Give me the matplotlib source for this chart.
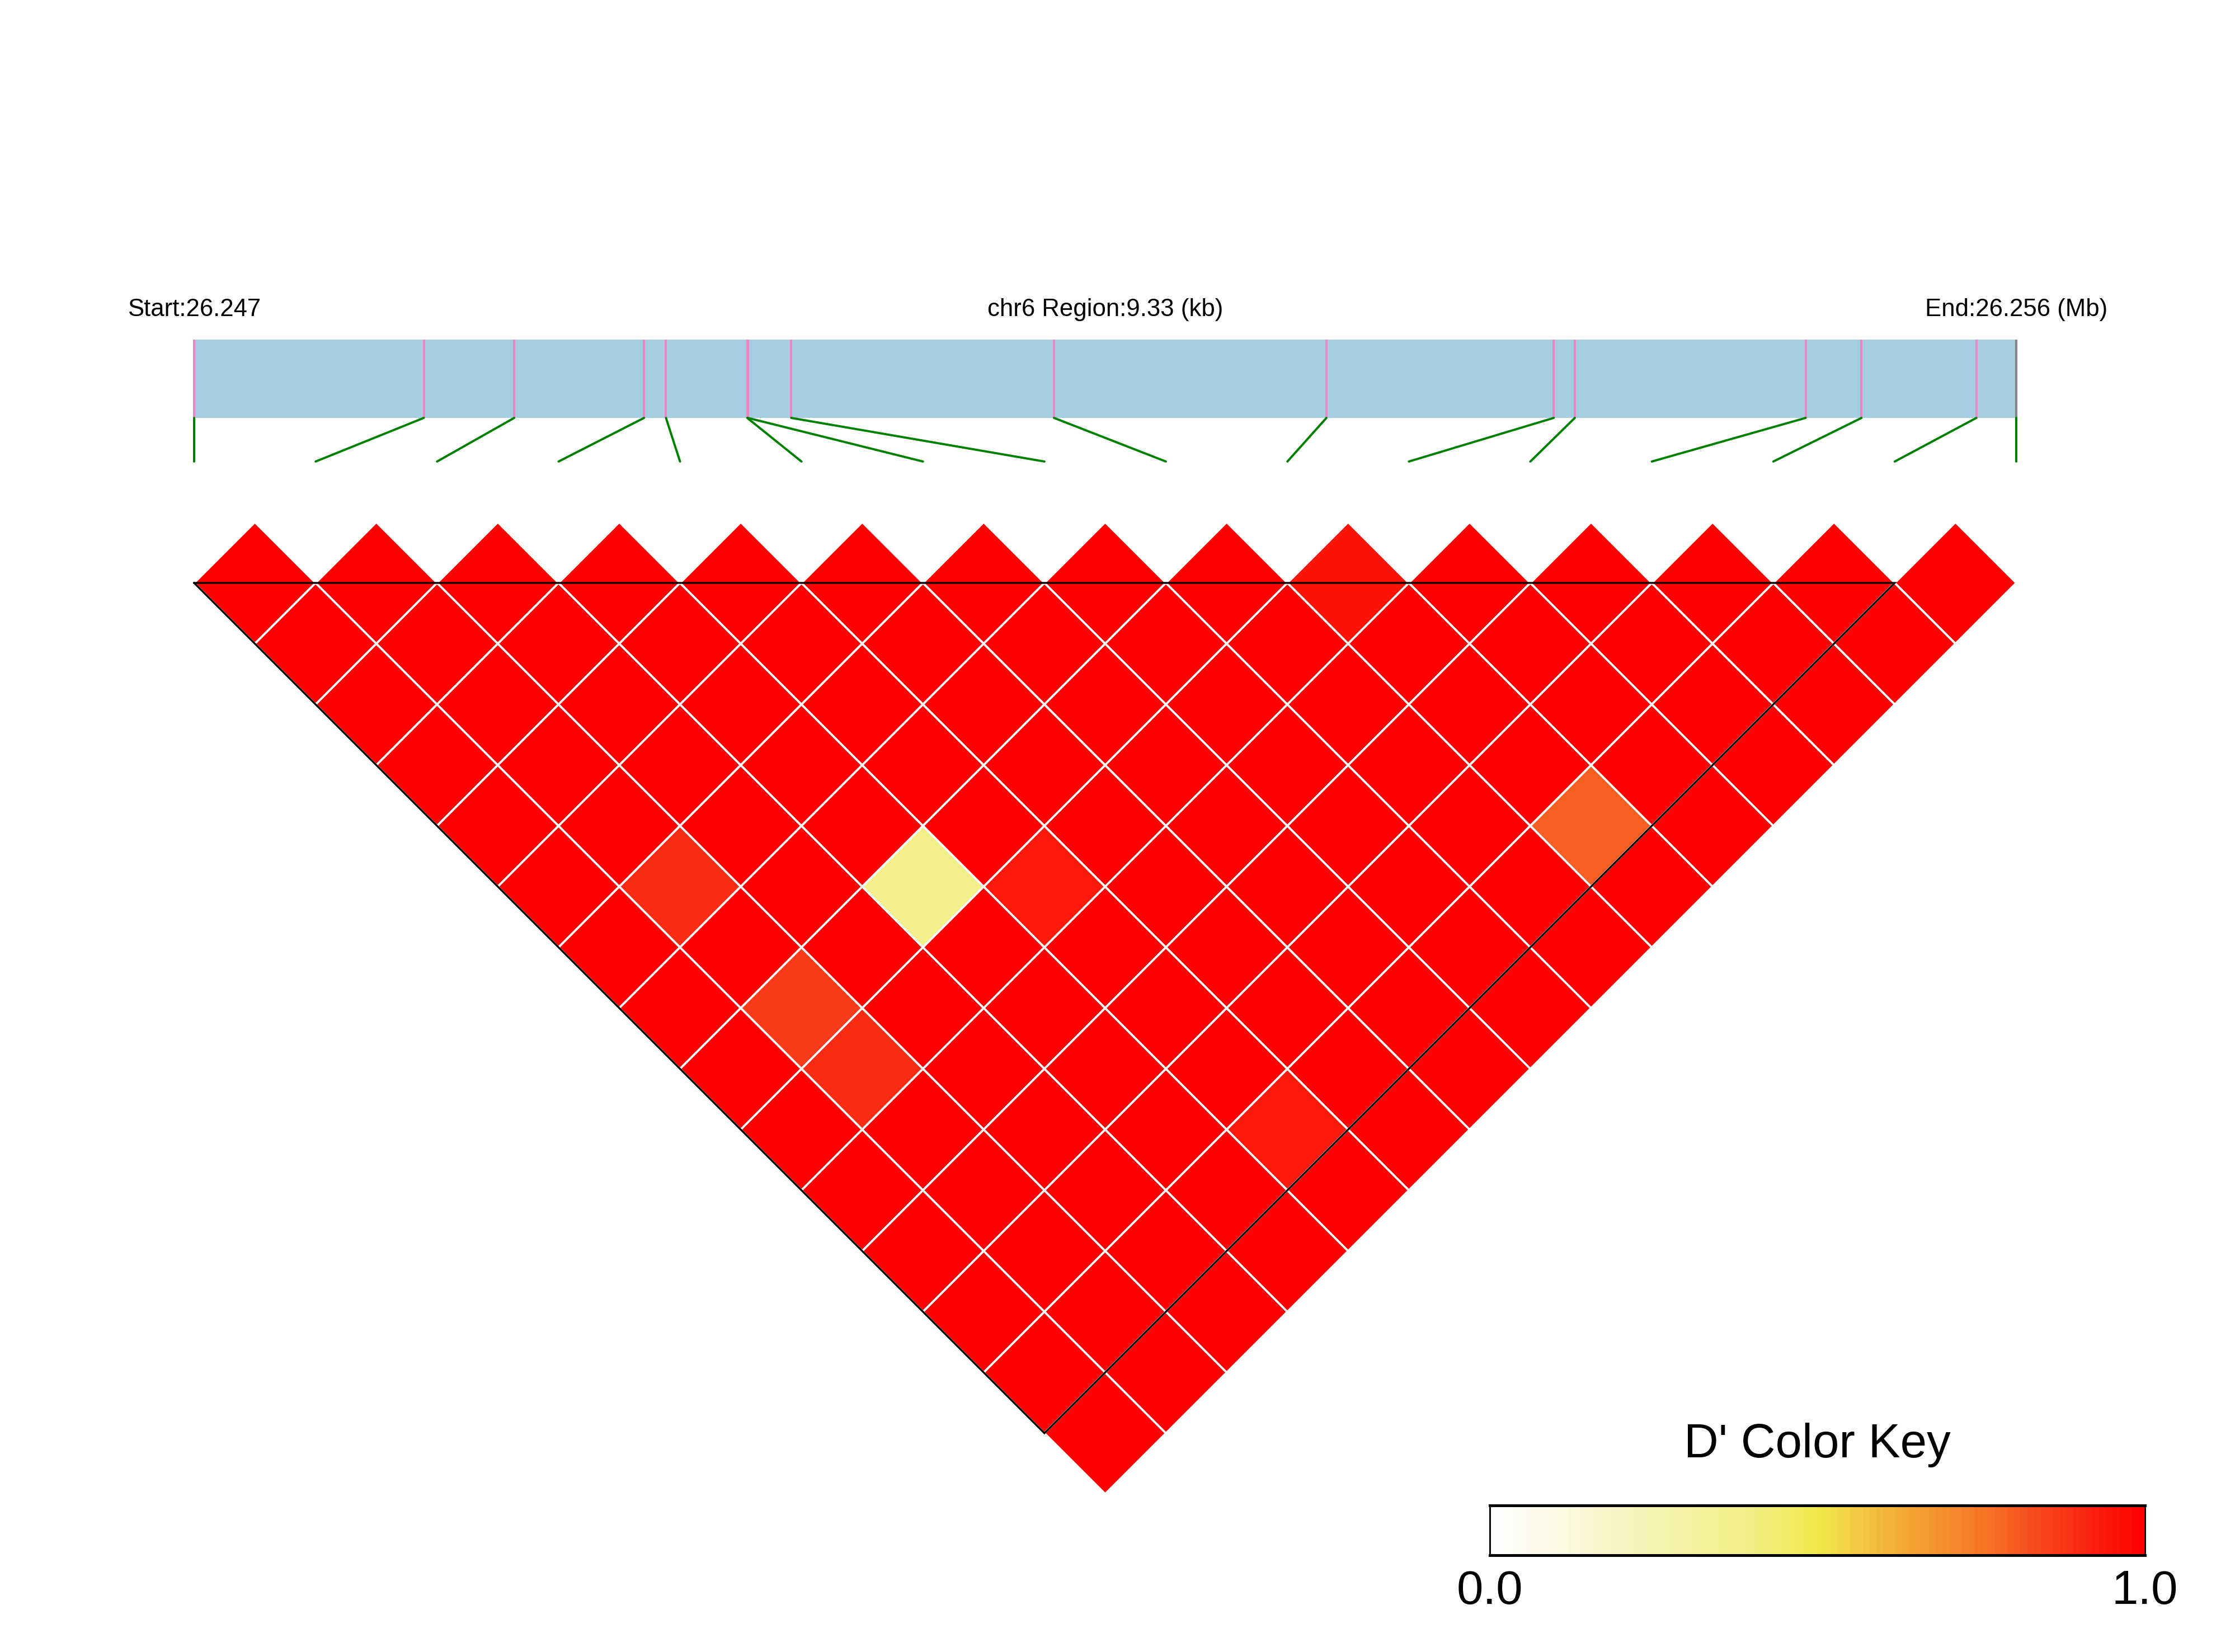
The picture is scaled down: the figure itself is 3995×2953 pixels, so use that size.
import matplotlib
matplotlib.use("Agg")
import matplotlib.pyplot as plt
import numpy as np
from matplotlib.collections import PolyCollection
from matplotlib.colors import LinearSegmentedColormap, ListedColormap
from matplotlib.patches import ConnectionPatch, Rectangle

plt.rcParams['font.family'] = ['Liberation Sans', 'DejaVu Sans']

# ---------------- data ----------------
chrom = "chr6"
snp_pos_bp = [26247000, 26248176, 26248639, 26249304, 26249416, 26249832,
              26249835, 26250057, 26251403, 26252798, 26253962, 26254070,
              26255252, 26255538, 26256126, 26256330]

# D' values: row i holds pairs (i, j) for j = i+1 .. 15
dprime_rows = [
    [1.0] * 15,
    [1.0, 1.0, 1.0, 1.0, 1.0, 0.89, 1.0, 0.86, 0.89, 1.0, 1.0, 1.0, 1.0, 1.0],
    [1.0] * 13,
    [1.0, 1.0, 1.0, 1.0, 1.0, 0.38, 1.0, 1.0, 1.0, 1.0, 1.0, 1.0],
    [1.0, 1.0, 1.0, 1.0, 1.0, 0.93, 1.0, 1.0, 1.0, 0.93, 1.0],
    [1.0] * 10,
    [1.0] * 9,
    [1.0] * 8,
    [1.0] * 7,
    [0.95, 1.0, 1.0, 1.0, 0.79, 1.0],
    [1.0] * 5,
    [1.0] * 4,
    [1.0] * 3,
    [1.0] * 2,
    [1.0] * 1,
]

key_stops = [0.0, 0.095, 0.193, 0.29, 0.39, 0.454, 0.503, 0.534, 0.583, 0.632,
             0.681, 0.730, 0.779, 0.828, 0.877, 0.926, 0.975, 1.0]
key_colors = ["#FFFFFF", "#FCFAE4", "#F8F5C4", "#F5F2A5", "#F3EF88", "#F2EC68",
              "#F1E848", "#F2DA48", "#F2C03E", "#F4AA35", "#F59530", "#F6822A",
              "#F66A24", "#F7501D", "#F93818", "#FB2010", "#FE0C05", "#FF0000"]
key_ticks = ["0.0", "1.0"]

# ---------------- layout ----------------
W, H = 3995, 2953
DPI = 300
px0, unit, base_py = 347.0, 217.13, 1042.0
n = len(snp_pos_bp)

smooth = LinearSegmentedColormap.from_list("dkey", list(zip(key_stops, key_colors)))
cmap = ListedColormap([smooth(k / 99) for k in range(100)])

fig = plt.figure(figsize=(W / DPI, H / DPI), dpi=DPI)
fig.patch.set_facecolor("white")

ax = fig.add_axes([0, 0, 1, 1])
ax.set_xlim((0 - px0) / unit, (W - px0) / unit)
ax.set_ylim((base_py - H) / unit, (base_py - 0) / unit)
ax.axis("off")

polys, cols = [], []
for i, row in enumerate(dprime_rows):
    for k, val in enumerate(row):
        j = i + 1 + k
        u = (i + j) / 2.0
        v = -(j - i - 1) / 2.0
        polys.append([(u - 0.5, v), (u, v + 0.5), (u + 0.5, v), (u, v - 0.5)])
        cols.append(cmap(val))
pc = PolyCollection(polys, facecolors=cols, edgecolors="white", linewidths=0.9, zorder=2)
ax.add_collection(pc)

# black outline triangle
ax.plot([0, n - 2, (n - 2) / 2, 0], [0, 0, -(n - 2) / 2, 0], color="black",
        lw=0.8, zorder=3, solid_joinstyle="miter")

# ---------------- gene map ----------------
bar_top_py, bar_bot_py = 607, 747
gx0 = px0 / W
gx1 = (px0 + (n - 1) * unit) / W
axg = fig.add_axes([gx0, 1 - bar_bot_py / H, gx1 - gx0, (bar_bot_py - bar_top_py) / H])
start, end = snp_pos_bp[0], snp_pos_bp[-1]
axg.set_xlim(start, end)
axg.set_ylim(0, 1)
axg.axis("off")
axg.add_patch(Rectangle((start, 0), end - start, 1, facecolor="#A6CEE3",
                        edgecolor="none", clip_on=False))
axg.vlines(snp_pos_bp, 0, 1, color="#E78AC3", lw=1.0, clip_on=False)
axg.vlines([end], 0, 1, color="#888888", lw=1.0, clip_on=False)

lab_y = (bar_bot_py - 565) / (bar_bot_py - bar_top_py)
fs_small = 10.5
axg.text(start, lab_y, f"Start:{start / 1e6:.3f}", ha="center", va="baseline",
         fontsize=fs_small, clip_on=False)
axg.text((start + end) / 2, lab_y, f"{chrom} Region:{(end - start) / 1000:.2f} (kb)",
         ha="center", va="baseline", fontsize=fs_small, clip_on=False)
axg.text(end, lab_y, f"End:{end / 1e6:.3f} (Mb)", ha="center", va="baseline",
         fontsize=fs_small, clip_on=False)

green_bot_v = (base_py - 825) / unit
for k, p in enumerate(snp_pos_bp):
    con = ConnectionPatch(xyA=(p, 0), coordsA=axg.transData,
                          xyB=(k, green_bot_v), coordsB=ax.transData,
                          color="#008000", lw=0.95)
    fig.add_artist(con)

# ---------------- color key ----------------
kx0, kx1, ky0, ky1 = 2663, 3834, 2691, 2780
axk = fig.add_axes([kx0 / W, 1 - ky1 / H, (kx1 - kx0) / W, (ky1 - ky0) / H])
grad = np.linspace(0, 1, 100).reshape(1, -1)
axk.imshow(grad, cmap=cmap, aspect="auto", extent=(0, 1, 0, 1), vmin=0, vmax=1,
           interpolation="nearest")
axk.set_xlim(0, 1)
axk.set_ylim(0, 1)
axk.set_xticks([])
axk.set_yticks([])
for s in axk.spines.values():
    s.set_linewidth(0.7)
    s.set_color("black")
axk.spines["top"].set_linewidth(1.2)
axk.spines["bottom"].set_linewidth(1.2)

fig.text((kx0 + kx1) / 2 / W, 1 - 2605 / H, "D' Color Key", ha="center",
         va="baseline", fontsize=20.5)
fig.text(kx0 / W, 1 - 2867 / H, key_ticks[0], ha="center", va="baseline", fontsize=20.5)
fig.text(kx1 / W, 1 - 2867 / H, key_ticks[1], ha="center", va="baseline", fontsize=20.5)

fig.savefig("out.png", dpi=DPI, facecolor="white")
